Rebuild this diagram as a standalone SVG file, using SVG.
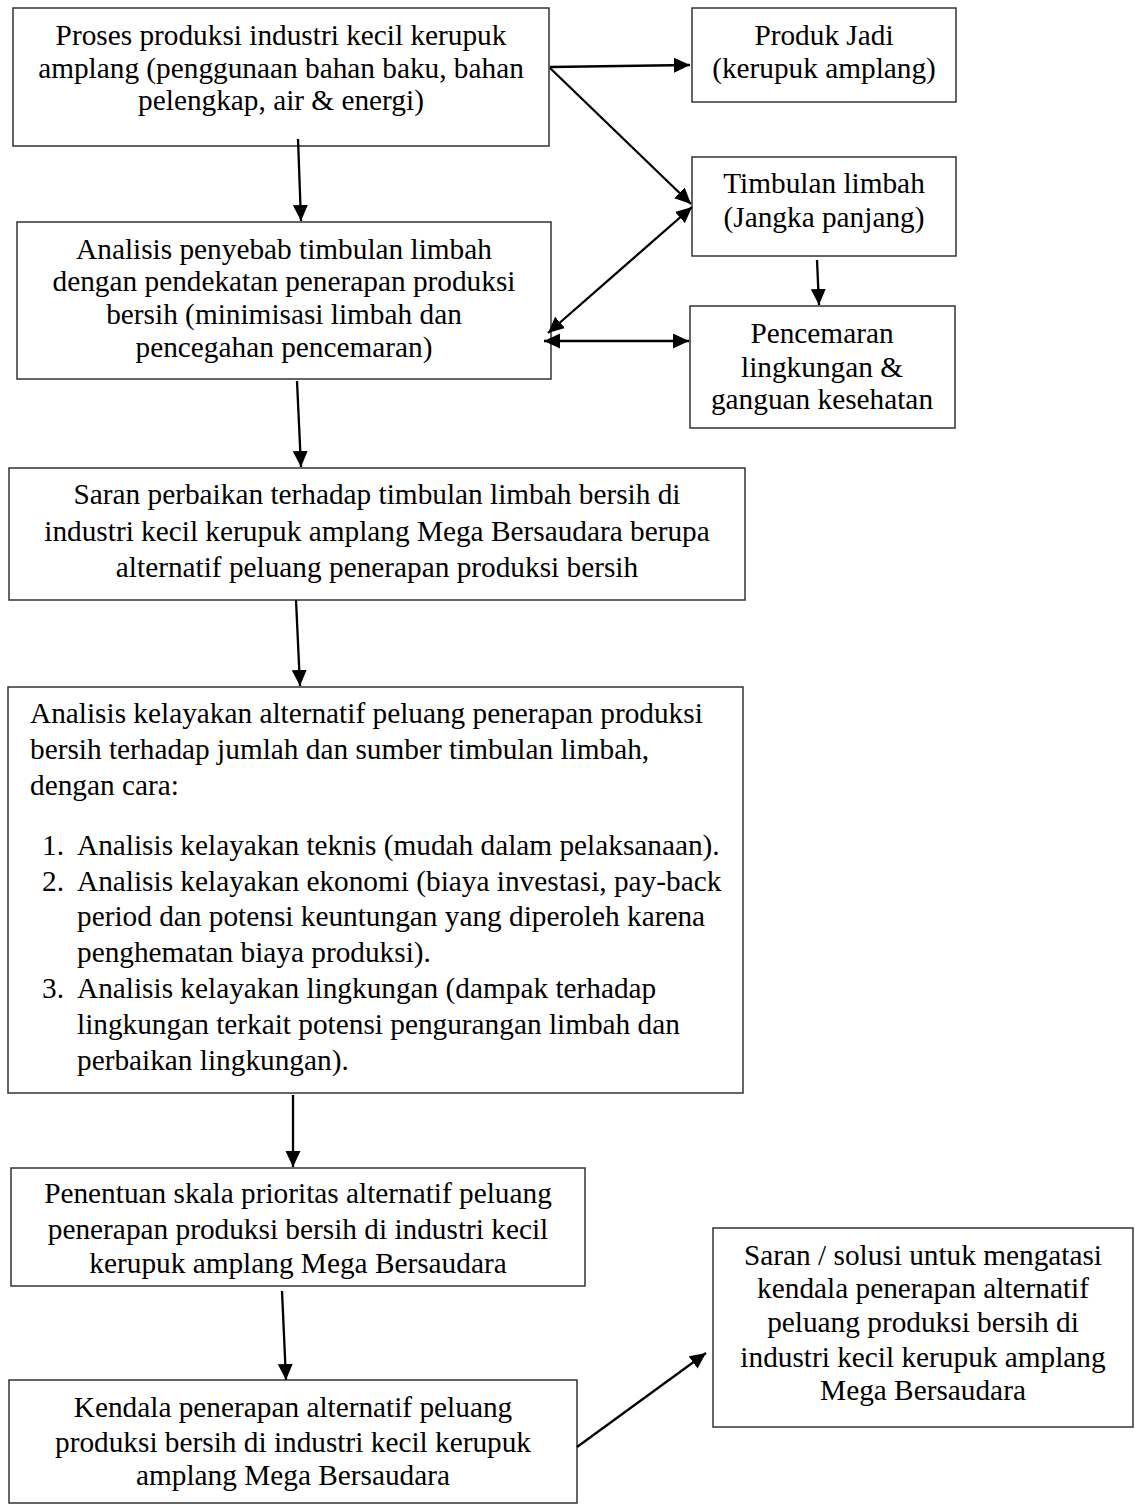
<svg xmlns="http://www.w3.org/2000/svg" width="1135" height="1506" viewBox="0 0 1135 1506">
<style>
.box{fill:#fff;stroke:#333;stroke-width:1.5}
.t{font-family:"Liberation Serif","Times New Roman",serif;font-size:29.3px;fill:#000}
.c{text-anchor:middle}
.ln{stroke:#000;stroke-width:2.3;fill:none}
</style>
<defs>
<marker id="ah" markerUnits="userSpaceOnUse" markerWidth="18" markerHeight="16" refX="16" refY="7.5" orient="auto-start-reverse">
<path d="M0,0 L16,7.5 L0,15 z" fill="#000"/>
</marker>
</defs>
<rect width="1135" height="1506" fill="#fff"/>
<g id="n1">
<rect class="box" x="13" y="8" width="536" height="138"/>
<text class="t c" x="281" y="45">Proses produksi industri kecil kerupuk</text>
<text class="t c" x="281" y="78">amplang (penggunaan bahan baku, bahan</text>
<text class="t c" x="281" y="110">pelengkap, air &amp; energi)</text>
</g>
<g id="n2">
<rect class="box" x="692" y="8" width="264" height="94"/>
<text class="t c" x="824" y="45">Produk Jadi</text>
<text class="t c" x="824" y="78">(kerupuk amplang)</text>
</g>
<g id="n3">
<rect class="box" x="692" y="157" width="264" height="99"/>
<text class="t c" x="824" y="193">Timbulan limbah</text>
<text class="t c" x="824" y="227">(Jangka panjang)</text>
</g>
<g id="n4">
<rect class="box" x="690" y="306" width="265" height="122"/>
<text class="t c" x="822" y="343">Pencemaran</text>
<text class="t c" x="822" y="377">lingkungan &amp;</text>
<text class="t c" x="822" y="409">ganguan kesehatan</text>
</g>
<g id="n5">
<rect class="box" x="17" y="222" width="534" height="157"/>
<text class="t c" x="284" y="259">Analisis penyebab timbulan limbah</text>
<text class="t c" x="284" y="291">dengan pendekatan penerapan produksi</text>
<text class="t c" x="284" y="324">bersih (minimisasi limbah dan</text>
<text class="t c" x="284" y="357">pencegahan pencemaran)</text>
</g>
<g id="n6">
<rect class="box" x="9" y="468" width="736" height="132"/>
<text class="t c" x="377" y="504">Saran perbaikan terhadap timbulan limbah bersih di</text>
<text class="t c" x="377" y="541">industri kecil kerupuk amplang Mega Bersaudara berupa</text>
<text class="t c" x="377" y="577">alternatif peluang penerapan produksi bersih</text>
</g>
<g id="n7">
<rect class="box" x="8" y="687" width="735" height="406"/>
<text class="t" x="30" y="723">Analisis kelayakan alternatif peluang penerapan produksi</text>
<text class="t" x="30" y="759">bersih terhadap jumlah dan sumber timbulan limbah,</text>
<text class="t" x="30" y="795">dengan cara:</text>
<text class="t" x="42" y="855">1.</text>
<text class="t" x="77" y="855">Analisis kelayakan teknis (mudah dalam pelaksanaan).</text>
<text class="t" x="42" y="891">2.</text>
<text class="t" x="77" y="891">Analisis kelayakan ekonomi (biaya investasi, pay-back</text>
<text class="t" x="77" y="926">period dan potensi keuntungan yang diperoleh karena</text>
<text class="t" x="77" y="962">penghematan biaya produksi).</text>
<text class="t" x="42" y="998">3.</text>
<text class="t" x="77" y="998">Analisis kelayakan lingkungan (dampak terhadap</text>
<text class="t" x="77" y="1034">lingkungan terkait potensi pengurangan limbah dan</text>
<text class="t" x="77" y="1070">perbaikan lingkungan).</text>
</g>
<g id="n8">
<rect class="box" x="11" y="1168" width="574" height="118"/>
<text class="t c" x="298" y="1203">Penentuan skala prioritas alternatif peluang</text>
<text class="t c" x="298" y="1239">penerapan produksi bersih di industri kecil</text>
<text class="t c" x="298" y="1273">kerupuk amplang Mega Bersaudara</text>
</g>
<g id="n9">
<rect class="box" x="9" y="1380" width="568" height="123"/>
<text class="t c" x="293" y="1417">Kendala penerapan alternatif peluang</text>
<text class="t c" x="293" y="1452">produksi bersih di industri kecil kerupuk</text>
<text class="t c" x="293" y="1485">amplang Mega Bersaudara</text>
</g>
<g id="n10">
<rect class="box" x="713" y="1228" width="420" height="199"/>
<text class="t c" x="923" y="1265">Saran / solusi untuk mengatasi</text>
<text class="t c" x="923" y="1298">kendala penerapan alternatif</text>
<text class="t c" x="923" y="1332">peluang produksi bersih di</text>
<text class="t c" x="923" y="1367">industri kecil kerupuk amplang</text>
<text class="t c" x="923" y="1400">Mega Bersaudara</text>
</g>
<g id="connectors">
<line class="ln" x1="298" y1="139" x2="301" y2="221" marker-end="url(#ah)"/>
<line class="ln" x1="550" y1="67" x2="690" y2="65" marker-end="url(#ah)"/>
<line class="ln" x1="550" y1="68" x2="691" y2="204" marker-end="url(#ah)"/>
<line class="ln" x1="548" y1="333" x2="692" y2="207" marker-start="url(#ah)" marker-end="url(#ah)"/>
<line class="ln" x1="544" y1="341" x2="689" y2="341" marker-start="url(#ah)" marker-end="url(#ah)"/>
<line class="ln" x1="817" y1="260" x2="819" y2="305" marker-end="url(#ah)"/>
<line class="ln" x1="297" y1="381" x2="301" y2="467" marker-end="url(#ah)"/>
<line class="ln" x1="296" y1="600" x2="300" y2="686" marker-end="url(#ah)"/>
<line class="ln" x1="293" y1="1095" x2="293" y2="1167" marker-end="url(#ah)"/>
<line class="ln" x1="282" y1="1291" x2="286" y2="1380" marker-end="url(#ah)"/>
<line class="ln" x1="577" y1="1447" x2="706" y2="1353" marker-end="url(#ah)"/>
</g>
</svg>
